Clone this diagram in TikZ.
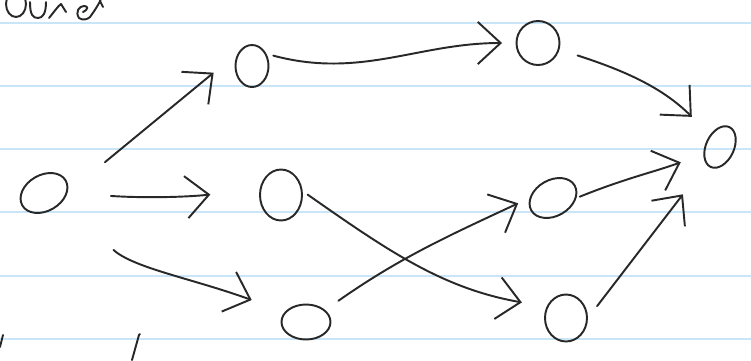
\documentclass[tikz,border=0pt]{standalone}
\usepackage{xcolor}
\usepackage{tikz}
\usetikzlibrary{shapes.geometric, arrows.meta}

\definecolor{ink}{RGB}{40,40,40}
\definecolor{ruleblue}{RGB}{200,230,248}

\begin{document}
\begin{tikzpicture}[
  x=0.02cm, y=0.02cm,
  ruled/.style={draw=ruleblue, line width=1.1pt},
  pen/.style={draw=ink, line width=1.1pt, line cap=round, line join=round},
  vtx/.style={ellipse, draw=ink, line width=1.1pt, inner sep=0pt},
  arrow/.style={pen, -{Straight Barb[length=13pt, width=24pt]}},
]

%% ── Page ──────────────────────────────────────────────────────────────────
\useasboundingbox (0,0) rectangle (751,360);
\clip (0,0) rectangle (751,360);
\fill[white] (0,0) rectangle (751,360);
\foreach \yy in {337.3, 274.3, 211, 147.7, 84, 20.7}
  \draw[ruled] (0,\yy) -- (751,\yy);

%% ── Scribbles at the page edges ──────────────────────────────────────────
\draw[pen] (16,356) ellipse [x radius=10, y radius=13];
\draw[pen] (30,358) .. controls (30,345) and (33,342) .. (38,342)
           .. controls (43,342) and (46,347) .. (46,358);
\draw[pen] (49,342) .. controls (54,348) and (58,354) .. (61,356) -- (66,348);
\draw[pen] (83,348) .. controls (89,351) and (88,354) .. (84,354)
           .. controls (79,354) and (75,348) .. (79,342)
           .. controls (83,339) and (88,341) .. (90,343)
           .. controls (95,350) and (99,356) .. (101,361);
\draw[pen] (100,359) -- (103,353);
\draw[pen] (3,25) -- (0,13);
\draw[pen] (140,26) -- (139,25) -- (132,0);

%% ── Vertices ─────────────────────────────────────────────────────────────
\node[vtx, minimum width=1.0cm,  minimum height=0.72cm, rotate=30] (a) at (44,167)  {};
\node[vtx, minimum width=0.66cm, minimum height=0.84cm]            (b) at (252,294) {};
\node[vtx, minimum width=0.86cm, minimum height=0.88cm]            (c) at (538,317) {};
\node[vtx, minimum width=0.88cm, minimum height=0.56cm, rotate=65] (d) at (720,213) {};
\node[vtx, minimum width=0.84cm, minimum height=1.02cm]            (e) at (281,165) {};
\node[vtx, minimum width=1.0cm,  minimum height=0.72cm, rotate=30] (f) at (553,162) {};
\node[vtx, minimum width=0.98cm, minimum height=0.7cm]             (g) at (306,38)  {};
\node[vtx, minimum width=0.84cm, minimum height=0.94cm]            (h) at (566,42)  {};

%% ── Edges ────────────────────────────────────────────────────────────────
\draw[arrow, shorten <=0.97cm, shorten >=0.64cm] (a.330) -- (b.135);
\draw[arrow, shorten <=0.87cm, shorten >=0.99cm] (a.330) to[bend right=5] (e.165);
\draw[arrow, shorten <=1.4cm,  shorten >=0.7cm]  (a.300) to[out=-42, in=160] (g.155);
\draw[arrow, shorten <=0.14cm, shorten >=0.27cm] (b.40)  to[out=-15, in=180] (c.180);
\draw[arrow, shorten <=0.38cm, shorten >=0.51cm] (c.-17) to[out=-18, in=135] (d.65);
\draw[arrow, shorten <=0.07cm, shorten >=0.48cm] (f.330) to[out=22, in=200]  (d.138);
\draw[arrow, shorten <=0.3cm,  shorten >=0.76cm] (h.0)   -- (d.166);
\draw[arrow, shorten <=0.32cm, shorten >=0.25cm] (g.32)  to[out=35, in=205]  (f.150);
\draw[arrow, shorten <=0.12cm, shorten >=0.5cm]  (e.10)  to[out=-35, in=170] (h.150);

\end{tikzpicture}
\end{document}
